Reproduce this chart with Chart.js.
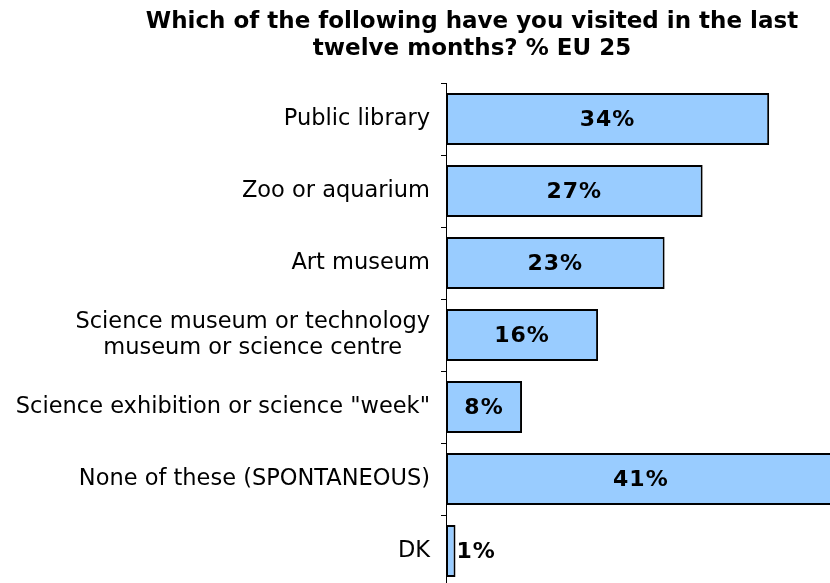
<!DOCTYPE html>
<html>
<head>
<meta charset="utf-8">
<script src="https://cdn.jsdelivr.net/npm/chart.js@4/dist/chart.umd.min.js"></script>
<style>
  html, body { margin: 0; padding: 0; background: #fff; overflow: hidden; }
  #wrap { width: 830px; height: 587px; position: relative; }
</style>
</head>
<body>
<div id="wrap"><canvas id="myChart"></canvas></div>
<script>
var titleLines = ['Which of the following have you visited in the last', 'twelve months? % EU 25'];
var categories = ['Public library', 'Zoo or aquarium', 'Art museum',
  'Science museum or technology\nmuseum or science centre',
  'Science exhibition or science "week"', 'None of these (SPONTANEOUS)', 'DK'];
var values = [34, 27, 23, 16, 8, 41, 1];

var ctx = document.getElementById('myChart');
var AXIS_X = 446; // left edge of the plot

// title, drawn a bit right of the canvas centre like the original
var titlePlugin = {
  id: 'titleDraw',
  afterDraw: function (chart) {
    var c = chart.ctx;
    c.save();
    c.font = 'bold 23px "DejaVu Sans"';
    c.fillStyle = '#000';
    c.textAlign = 'center';
    c.textBaseline = 'alphabetic';
    titleLines.forEach(function (line, i) {
      c.fillText(line, 472, 28 + i * 27);
    });
    c.restore();
  }
};

// category labels: right aligned block, lines centred inside the block
var labelPlugin = {
  id: 'catLabels',
  afterDraw: function (chart) {
    var c = chart.ctx;
    var yScale = chart.scales.y;
    c.save();
    c.font = '22.5px "DejaVu Sans"';
    c.fillStyle = '#000';
    c.textAlign = 'center';
    c.textBaseline = 'middle';
    categories.forEach(function (lab, i) {
      var lines = lab.split('\n');
      var w = 0;
      lines.forEach(function (l) { w = Math.max(w, c.measureText(l).width); });
      var cx = 430 - w / 2;
      var cy = yScale.getPixelForValue(i);
      var lh = 26;
      lines.forEach(function (l, j) {
        c.fillText(l, cx, cy + (j - (lines.length - 1) / 2) * lh);
      });
    });
    c.restore();
  }
};

// value labels in the middle of each bar
var valuePlugin = {
  id: 'valueLabels',
  afterDatasetsDraw: function (chart) {
    var c = chart.ctx;
    var meta = chart.getDatasetMeta(0);
    c.save();
    c.font = 'bold 22px "DejaVu Sans"';
    c.letterSpacing = '1px';
    c.fillStyle = '#000';
    c.textBaseline = 'middle';
    meta.data.forEach(function (bar, i) {
      var txt = values[i] + '%';
      var tw = c.measureText(txt).width;
      var bw = bar.x - bar.base;
      if (tw + 6 > bw) {
        c.textAlign = 'left';
        c.fillText(txt, bar.x + 1, bar.y + 1);
      } else {
        c.textAlign = 'center';
        c.fillText(txt, (bar.x + bar.base) / 2, bar.y + 1);
      }
    });
    c.restore();
  }
};

var myChart = new Chart(ctx, {
  type: 'bar',
  data: {
    labels: categories,
    datasets: [{
      data: values,
      backgroundColor: '#99CCFF',
      borderColor: '#000',
      borderWidth: 2,
      borderSkipped: false,
      categoryPercentage: 1,
      barPercentage: 0.72,
      clip: false
    }]
  },
  options: {
    indexAxis: 'y',
    responsive: true,
    maintainAspectRatio: false,
    animation: false,
    layout: { padding: { top: 83, right: 0, bottom: 0, left: 0 } },
    plugins: {
      legend: { display: false },
      title: { display: false },
      tooltip: { enabled: false }
    },
    scales: {
      x: {
        display: false,
        min: 0,
        max: 40.4
      },
      y: {
        offset: true,
        afterFit: function (s) { s.width = AXIS_X; },
        border: { display: true, color: '#000', width: 1 },
        grid: {
          offset: true,
          drawOnChartArea: false,
          drawTicks: true,
          tickLength: 5,
          color: '#000',
          tickColor: '#000'
        },
        ticks: { display: false }
      }
    }
  },
  plugins: [titlePlugin, labelPlugin, valuePlugin]
});
</script>
</body>
</html>
